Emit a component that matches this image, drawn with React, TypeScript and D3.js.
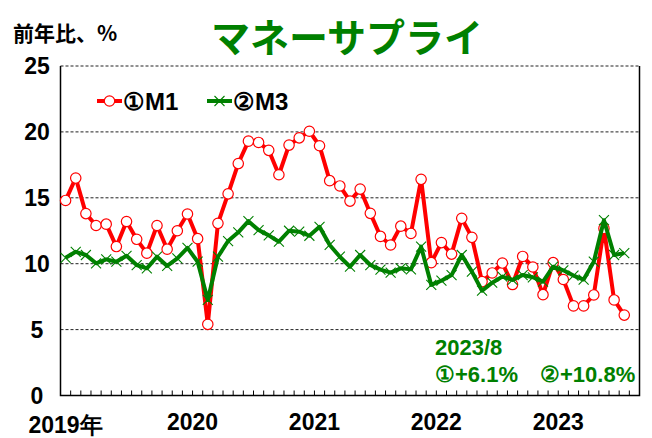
import React, { useEffect, useRef } from 'react';
import * as d3 from 'd3';

// monthly, 2019/1 .. 2023/8 (one spare slot for 2023/9 on the axis)
const M1 = [
  14.8, 16.5, 13.8, 12.9, 13.0, 11.3, 13.2, 11.85, 10.8, 12.9, 11.1, 12.5,
  13.77, 11.9, 5.4, 13.06, 15.3, 17.6, 19.3, 19.2, 18.6, 16.75, 19.0, 19.55,
  20.05, 18.95, 16.3, 15.9, 14.75, 15.66, 13.82, 12.07, 11.42, 12.85, 12.3, 16.4,
  10.08, 11.6, 10.73, 13.44, 12.0, 8.64, 9.3, 10.05, 8.42, 10.55, 9.75, 7.65,
  10.08, 8.8, 6.8, 6.8, 7.63, 12.68, 7.25, 6.1,
];
const M3 = [
  10.45, 10.9, 10.66, 10.03, 10.33, 10.15, 10.6, 9.9, 9.65, 10.53, 9.83, 10.4,
  11.2, 10.15, 7.25, 10.53, 11.72, 12.38, 13.23, 12.55, 12.15, 11.67, 12.5, 12.43,
  12.12, 12.8, 11.42, 10.53, 9.77, 10.66, 9.9, 9.55, 9.32, 9.65, 9.57, 11.29,
  8.39, 8.71, 9.14, 10.66, 9.4, 7.95, 8.56, 9.02, 8.77, 9.14, 8.97, 8.64,
  9.77, 9.5, 9.1, 8.8, 10.15, 13.3, 10.66, 10.8,
];
const N_SLOTS = 57;
const YEAR_LABELS = ['2019年', '2020', '2021', '2022', '2023'];
const Y_TICKS = [0, 5, 10, 15, 20, 25];
const SERIES_NAMES = ['①M1', '②M3'];
const NOTE_DATE = '2023/8';
const NOTE_VALUES = ['①+6.1%', '②+10.8%'];

const RED = '#ff0000';
const GREEN = '#008000';
const NUM_FONT = '"Liberation Sans", Arial, sans-serif';
const JP_FONT = '"Noto Sans CJK JP", "Noto Sans", sans-serif';

const App: React.FC = () => {
  const svgRef = useRef<SVGSVGElement>(null);
  const WIDTH = 652;
  const HEIGHT = 438;
  const plot = { left: 60.5, right: 639.5, top: 66, bottom: 395.5 };

  useEffect(() => {
    if (!svgRef.current) return;
    const svg = d3.select(svgRef.current);
    svg.selectAll('*').remove();

    const x = d3.scaleLinear().domain([-0.5, N_SLOTS - 0.5]).range([plot.left, plot.right]);
    const y = d3.scaleLinear().domain([0, 25]).range([plot.bottom, plot.top]);

    svg.append('rect').attr('width', WIDTH).attr('height', HEIGHT).attr('fill', '#fff');

    // gridlines
    svg.append('g')
      .selectAll('line')
      .data(Y_TICKS.filter(d => d > 0))
      .join('line')
      .attr('x1', plot.left).attr('x2', plot.right)
      .attr('y1', d => y(d)).attr('y2', d => y(d))
      .attr('stroke', '#222')
      .attr('stroke-width', 1)
      .attr('stroke-dasharray', '3 2');

    // frame left/right/bottom
    svg.append('path')
      .attr('d', `M${plot.left},${plot.top}V${plot.bottom}H${plot.right}V${plot.top}`)
      .attr('fill', 'none')
      .attr('stroke', '#000')
      .attr('stroke-width', 1.5);

    // small category ticks on the bottom axis
    svg.append('g')
      .selectAll('line')
      .data(d3.range(N_SLOTS + 1))
      .join('line')
      .attr('x1', i => x(i - 0.5)).attr('x2', i => x(i - 0.5))
      .attr('y1', plot.bottom).attr('y2', plot.bottom - 5)
      .attr('stroke', '#000')
      .attr('stroke-width', 1);

    // y labels
    svg.append('g')
      .selectAll('text')
      .data(Y_TICKS)
      .join('text')
      .attr('x', 37)
      .attr('y', d => y(d))
      .attr('dy', '0.36em')
      .attr('text-anchor', 'middle')
      .attr('font-family', NUM_FONT)
      .attr('font-weight', 'bold')
      .attr('font-size', 23)
      .text(d => d);

    // year labels
    svg.append('g')
      .selectAll('text')
      .data(YEAR_LABELS)
      .join('text')
      .attr('x', (d, k) => x(k === 0 ? 0 : k * 12 + 0.5))
      .attr('y', (d, k) => (k === 0 ? 433 : 430))
      .attr('text-anchor', 'middle')
      .attr('font-family', NUM_FONT)
      .attr('font-weight', 'bold')
      .attr('font-size', 23)
      .text(d => d);

    const line = d3.line<number>().x((d, i) => x(i)).y(d => y(d));

    // ① M1
    svg.append('path')
      .datum(M1)
      .attr('d', line)
      .attr('fill', 'none')
      .attr('stroke', RED)
      .attr('stroke-width', 4)
      .attr('stroke-linejoin', 'round');
    svg.append('g')
      .selectAll('circle')
      .data(M1)
      .join('circle')
      .attr('cx', (d, i) => x(i))
      .attr('cy', d => y(d))
      .attr('r', 5.2)
      .attr('fill', '#fff')
      .attr('stroke', RED)
      .attr('stroke-width', 1.2);

    // ② M3
    svg.append('path')
      .datum(M3)
      .attr('d', line)
      .attr('fill', 'none')
      .attr('stroke', GREEN)
      .attr('stroke-width', 4)
      .attr('stroke-linejoin', 'round');
    const xMark = (cx: number, cy: number, s: number) =>
      `M${cx - s},${cy - s}L${cx + s},${cy + s}M${cx - s},${cy + s}L${cx + s},${cy - s}`;
    svg.append('g')
      .selectAll('path')
      .data(M3)
      .join('path')
      .attr('d', (d, i) => xMark(x(i), y(d), 5))
      .attr('stroke', GREEN)
      .attr('stroke-width', 1.1);

    // legend
    const lg = svg.append('g').attr('font-family', NUM_FONT).attr('font-weight', 'bold').attr('font-size', 24);
    lg.append('line').attr('x1', 97).attr('x2', 122).attr('y1', 101).attr('y2', 101)
      .attr('stroke', RED).attr('stroke-width', 4);
    lg.append('circle').attr('cx', 109.5).attr('cy', 101).attr('r', 5.2)
      .attr('fill', '#fff').attr('stroke', RED).attr('stroke-width', 1.2);
    lg.append('text').attr('x', 123).attr('y', 109.5).text(SERIES_NAMES[0]);
    lg.append('line').attr('x1', 207).attr('x2', 232).attr('y1', 101).attr('y2', 101)
      .attr('stroke', GREEN).attr('stroke-width', 4);
    lg.append('path').attr('d', xMark(219.5, 101, 5)).attr('stroke', GREEN).attr('stroke-width', 1.1);
    lg.append('text').attr('x', 233).attr('y', 109.5).text(SERIES_NAMES[1]);

    // note
    const note = svg.append('g').attr('font-family', NUM_FONT).attr('font-weight', 'bold')
      .attr('font-size', 22).attr('fill', GREEN);
    note.append('text').attr('x', 435).attr('y', 355).text(NOTE_DATE);
    note.append('text').attr('x', 435).attr('y', 382).text(NOTE_VALUES[0]);
    note.append('text').attr('x', 540).attr('y', 382).text(NOTE_VALUES[1]);

    // titles
    svg.append('text')
      .attr('x', 13).attr('y', 41)
      .attr('font-family', JP_FONT).attr('font-weight', 'bold').attr('font-size', 21)
      .text('前年比、%');
    svg.append('text')
      .attr('x', 347).attr('y', 52)
      .attr('text-anchor', 'middle')
      .attr('font-family', JP_FONT).attr('font-weight', 'bold').attr('font-size', 39)
      .attr('fill', GREEN)
      .text('マネーサプライ');
  }, []);

  return (
    <svg
      ref={svgRef}
      width={WIDTH}
      height={HEIGHT}
      viewBox={`0 0 ${WIDTH} ${HEIGHT}`}
      style={{ position: 'absolute', left: 0, top: 0 }}
    />
  );
};

export default App;
